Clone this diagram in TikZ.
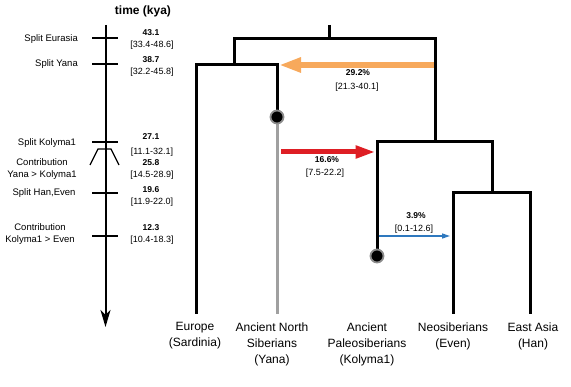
\documentclass[tikz,border=0pt]{standalone}
\usepackage{fontspec}
\setmainfont{Liberation Sans}
\usetikzlibrary{arrows.meta}
\definecolor{orng}{RGB}{247,169,92}
\definecolor{rd}{RGB}{222,30,36}
\definecolor{bl}{RGB}{46,120,190}
\definecolor{gry}{RGB}{160,160,160}
\definecolor{ring}{RGB}{140,140,140}
\begin{document}
\begin{tikzpicture}[x=1pt,y=-1pt,
  tree/.style={line width=3pt,line join=miter},
  greyline/.style={line width=3pt,gry},
  tick/.style={line width=1.2pt},
  lab/.style={font=\fontsize{9.5}{12}\selectfont,inner sep=0pt,align=center},
  num/.style={font=\bfseries\fontsize{8.5}{10}\selectfont,inner sep=0pt},
  ci/.style={font=\fontsize{9}{11}\selectfont,inner sep=0pt},
  leaf/.style={font=\fontsize{12}{16}\selectfont,inner sep=0pt,align=center,anchor=north},
  dot/.style={circle,fill=black,draw=ring,line width=1.8pt,minimum size=13pt,inner sep=0pt}]
\useasboundingbox (0,0) rectangle (571,387);
% time axis
\node[font=\bfseries\fontsize{12}{14}\selectfont,inner sep=0pt] (title) at (143,11) {time (kya)};
\coordinate (axtop) at (105.5,25);
\coordinate (axbot) at (105.5,327);
\draw[line width=2pt,-{Stealth[length=17pt,width=10pt,inset=5pt]}] (axtop) -- (axbot);
\foreach \y/\n in {38/t1,64/t2,142/t3,193/t5,236/t6}{
  \coordinate (\n a) at (92,\y); \coordinate (\n b) at (118,\y);
  \draw[tick] (\n a) -- (\n b);
}
\coordinate (tz1) at (90,165); \coordinate (tz2) at (98,149);
\coordinate (tz3) at (111,149); \coordinate (tz4) at (119,165);
\draw[tick] (tz1) -- (tz2) -- (tz3) -- (tz4);
% left labels
\node[lab,anchor=east] (sEu) at (78,39) {Split Eurasia};
\node[lab,anchor=east] (sYa) at (78,64) {Split Yana};
\node[lab] (sKo) at (47,143) {Split Kolyma1};
\node[lab] (cYK) at (42,169.5) {Contribution\\Yana > Kolyma1};
\node[lab] (sHE) at (44,193) {Split Han,Even};
\node[lab] (cKE) at (40,234.5) {Contribution\\Kolyma1 > Even};
% numbers
\node[num] (n1) at (151,33) {43.1};
\node[ci] (c1) at (152,45) {[33.4-48.6]};
\node[num] (n2) at (151,60) {38.7};
\node[ci] (c2) at (152,72) {[32.2-45.8]};
\node[num] (n3) at (151,137) {27.1};
\node[ci] (c3) at (152,152) {[11.1-32.1]};
\node[num] (n4) at (151,163) {25.8};
\node[ci] (c4) at (152,175) {[14.5-28.9]};
\node[num] (n5) at (151,190) {19.6};
\node[ci] (c5) at (152,202) {[11.9-22.0]};
\node[num] (n6) at (151,228) {12.3};
\node[ci] (c6) at (152,240) {[10.4-18.3]};
% tree
\coordinate (root) at (329,25); \coordinate (rootj) at (329,39);
\coordinate (tl) at (234,39); \coordinate (tr) at (435,39);
\coordinate (eyj) at (234,65);
\coordinate (eu) at (196,65); \coordinate (ya) at (277,65);
\coordinate (eub) at (196,314); \coordinate (yadot) at (277,117); \coordinate (yab) at (277,314);
\coordinate (kn) at (435,142); \coordinate (ko) at (377,142); \coordinate (nh) at (492,142);
\coordinate (kodot) at (377,256);
\coordinate (nhj) at (492,193); \coordinate (ne) at (453,193); \coordinate (ha) at (530,193);
\coordinate (neb) at (453,314); \coordinate (hab) at (530,314);
\draw[greyline] (yadot) -- (yab);
\draw[tree] (root) -- (rootj);
\draw[tree] (eyj) -- (tl) -- (tr) -- (kn);
\draw[tree] (eub) -- (eu) -- (ya) -- (yadot);
\draw[tree] (kodot) -- (ko) -- (nh) -- (nhj);
\draw[tree] (neb) -- (ne) -- (ha) -- (hab);
\node[dot] (dya) at (yadot) {};
\node[dot] (dko) at (kodot) {};
% admixture arrows
\coordinate (oa) at (433.5,65); \coordinate (ob) at (279,65);
\draw[orng,line width=6pt,-{Triangle[length=22pt,width=14pt]}] (oa) -- (ob);
\coordinate (ra) at (281,152); \coordinate (rb) at (375.5,152);
\draw[rd,line width=5pt,-{Triangle[length=20pt,width=12pt]}] (ra) -- (rb);
\coordinate (ba) at (378.5,236); \coordinate (bb) at (450,236);
\draw[bl,line width=1.4pt,-{Triangle[length=8pt,width=5pt]}] (ba) -- (bb);
\node[num] (p1) at (358,73) {29.2\%};
\node[ci] (q1) at (357,87) {[21.3-40.1]};
\node[num] (p2) at (327,160) {16.6\%};
\node[ci] (q2) at (325,173) {[7.5-22.2]};
\node[num] (p3) at (416,216) {3.9\%};
\node[ci] (q3) at (414,229) {[0.1-12.6]};
% leaves
\node[leaf] (lEu) at (195,322.5) {Europe\\(Sardinia)};
\node[leaf] (lYa) at (272,322.5) {Ancient North\\Siberians\\(Yana)};
\node[leaf] (lKo) at (367,322.5) {Ancient\\Paleosiberians\\(Kolyma1)};
\node[leaf] (lNe) at (453,322.5) {Neosiberians\\(Even)};
\node[leaf] (lHa) at (533,322.5) {East Asia\\(Han)};
\end{tikzpicture}
\end{document}
